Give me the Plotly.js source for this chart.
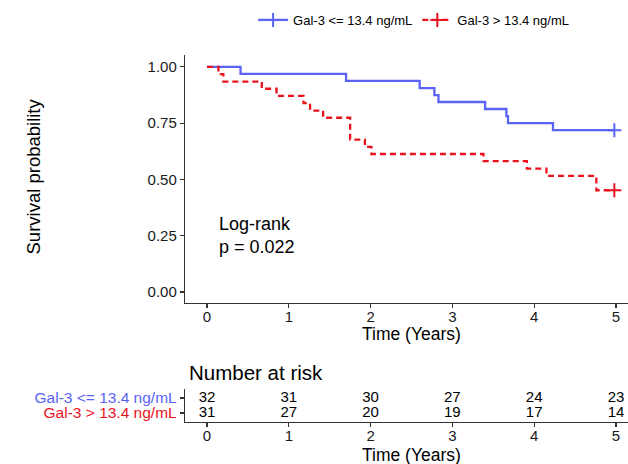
<!DOCTYPE html>
<html>
<head>
<meta charset="utf-8">
<script src="https://cdn.plot.ly/plotly-3.0.1.min.js"></script>
<style>html,body{margin:0;padding:0;background:#fff;} #chart{width:628px;height:464px;}</style>
</head>
<body>
<div id="chart"></div>
<script>
// ---- data ----
const groupNames = ["Gal-3 <= 13.4 ng/mL", "Gal-3 > 13.4 ng/mL"];
const groupColors = ["#5A64F4", "#E8131C"];

const lowTimes = [0, 0.41, 1.70, 2.60, 2.78, 2.83, 3.40, 3.66, 3.68, 4.23, 4.98];
const lowSurv  = [1.000, 0.969, 0.938, 0.906, 0.875, 0.844, 0.813, 0.781, 0.750, 0.719, 0.719];
const lowCensorTime = [4.98];
const lowCensorSurv = [0.719];

const highTimes = [0, 0.14, 0.20, 0.67, 0.85, 1.18, 1.26, 1.42, 1.75, 1.93, 2.01, 3.38, 3.91, 4.15, 4.76, 4.98];
const highSurv  = [1.000, 0.968, 0.935, 0.903, 0.871, 0.839, 0.806, 0.774, 0.677, 0.645, 0.613, 0.581, 0.548, 0.516, 0.452, 0.452];
const highCensorTime = [4.98];
const highCensorSurv = [0.452];

const riskTimes = [0, 1, 2, 3, 4, 5];
const riskLow  = [32, 31, 30, 27, 24, 23];
const riskHigh = [31, 27, 20, 19, 17, 14];

const yTickVals = [0, 0.25, 0.5, 0.75, 1];
const yTickText = ["0.00", "0.25", "0.50", "0.75", "1.00"];
const xTickVals = [0, 1, 2, 3, 4, 5];

// ---- figure ----
const FONT = "Liberation Sans, Arial, sans-serif";
const AX = "#333333";

const traces = [
  {x: lowTimes, y: lowSurv, mode: "lines", line: {shape: "hv", color: groupColors[0], width: 2.3},
   showlegend: false, hoverinfo: "skip", xaxis: "x", yaxis: "y"},
  {x: highTimes, y: highSurv, mode: "lines", line: {shape: "hv", color: groupColors[1], width: 2.3, dash: "6px,4px"},
   showlegend: false, hoverinfo: "skip", xaxis: "x", yaxis: "y"},
  {x: lowCensorTime, y: lowCensorSurv, name: groupNames[0], mode: "lines+markers",
   line: {color: groupColors[0], width: 2.3},
   marker: {symbol: "cross-thin-open", size: 10, color: groupColors[0], line: {width: 2, color: groupColors[0]}},
   xaxis: "x", yaxis: "y"},
  {x: highCensorTime, y: highCensorSurv, name: groupNames[1], mode: "lines+markers",
   line: {color: groupColors[1], width: 2.3, dash: "6px,4px"},
   marker: {symbol: "cross-thin-open", size: 10, color: groupColors[1], line: {width: 2, color: groupColors[1]}},
   xaxis: "x", yaxis: "y"},
  {x: riskTimes, y: riskTimes.map(() => 2), text: riskLow.map(String), mode: "text",
   textfont: {family: FONT, size: 15, color: "#000"}, showlegend: false, hoverinfo: "skip",
   xaxis: "x2", yaxis: "y2"},
  {x: riskTimes, y: riskTimes.map(() => 1), text: riskHigh.map(String), mode: "text",
   textfont: {family: FONT, size: 15, color: "#000"}, showlegend: false, hoverinfo: "skip",
   xaxis: "x2", yaxis: "y2"}
];

const axisCommon = {
  showgrid: false, zeroline: false, showline: true, linecolor: AX, linewidth: 1.2,
  ticks: "outside", ticklen: 4, tickwidth: 1.1, tickcolor: AX,
  tickfont: {family: FONT, size: 15, color: "#1a1a1a"}, fixedrange: true
};

const layout = {
  width: 628, height: 464,
  margin: {l: 185, r: 0, t: 0, b: 0},
  paper_bgcolor: "#fff", plot_bgcolor: "#fff",
  font: {family: FONT, color: "#000"},
  showlegend: true,
  legend: {orientation: "h", x: 0.516, xanchor: "center", y: 0.957, yanchor: "middle",
           font: {family: FONT, size: 13, color: "#000"}, bgcolor: "rgba(0,0,0,0)", itemwidth: 30, tracegroupgap: 0},
  xaxis: Object.assign({}, axisCommon, {domain: [0, 1], range: [-0.269, 5.147], tickvals: xTickVals,
           ticklabelstandoff: -4, anchor: "y"}),
  yaxis: Object.assign({}, axisCommon, {domain: [0.347, 0.8815], range: [-0.049, 1.053],
           tickvals: yTickVals, ticktext: yTickText, anchor: "x"}),
  xaxis2: Object.assign({}, axisCommon, {domain: [0, 1], range: [-0.269, 5.147], tickvals: xTickVals,
           ticklabelstandoff: -4, anchor: "y2"}),
  yaxis2: Object.assign({}, axisCommon, {domain: [0.0905, 0.1616], range: [0.4, 2.6],
           tickvals: [2, 1],
           ticktext: ['<span style="color:' + groupColors[0] + '">' + groupNames[0] + '</span>',
                      '<span style="color:' + groupColors[1] + '">' + groupNames[1] + '</span>'],
           tickfont: {family: FONT, size: 15.5}, anchor: "x2"}),
  annotations: [
    {text: "Survival probability", xref: "paper", yref: "paper", x: (20 - 185) / 443, y: (464 - 177) / 464,
     textangle: -90, showarrow: false, font: {family: FONT, size: 18.5, color: "#000"}},
    {text: "Time (Years)", xref: "paper", yref: "paper", x: (411 - 185) / 443, y: (464 - 334) / 464,
     yanchor: "middle", showarrow: false, font: {family: FONT, size: 17.5, color: "#000"}},
    {text: "Log-rank<br>p = 0.022", xref: "x", yref: "y", x: 0.12, y: 0.25, xanchor: "left",
     yanchor: "middle", align: "left", showarrow: false, font: {family: FONT, size: 18, color: "#000"}},
    {text: "Number at risk", xref: "paper", yref: "paper", x: 0.005, y: (464 - 372) / 464,
     xanchor: "left", yanchor: "middle", showarrow: false, font: {family: FONT, size: 20.5, color: "#000"}},
    {text: "Time (Years)", xref: "paper", yref: "paper", x: (411 - 185) / 443, y: (464 - 455) / 464,
     yanchor: "middle", showarrow: false, font: {family: FONT, size: 17.5, color: "#000"}}
  ]
};

Plotly.newPlot("chart", traces, layout, {displayModeBar: false, staticPlot: true});
</script>
</body>
</html>
